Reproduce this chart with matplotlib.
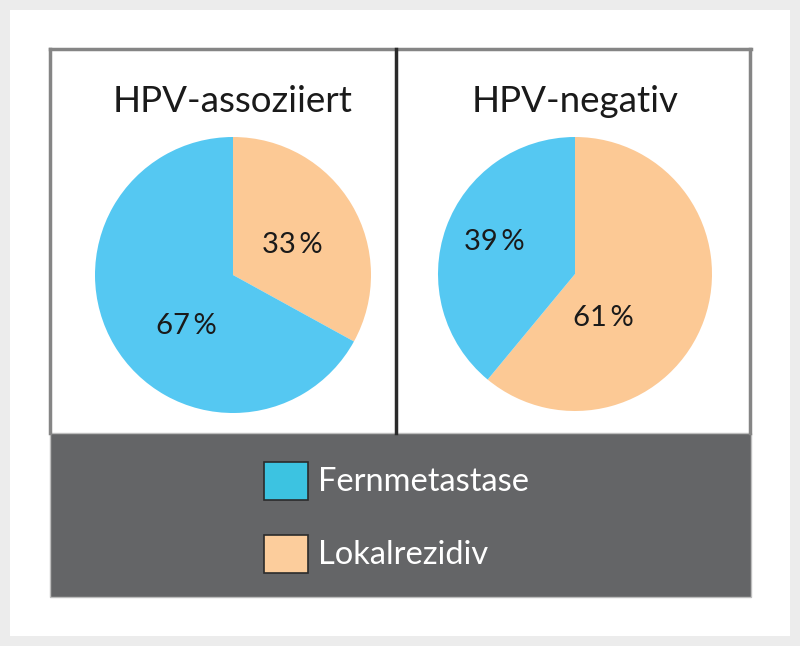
import matplotlib
matplotlib.use('Agg')
import matplotlib.pyplot as plt
from matplotlib.patches import Rectangle
from matplotlib.lines import Line2D

plt.rcParams['font.family'] = ['Lato', 'DejaVu Sans']

groups = ['HPV-assoziiert', 'HPV-negativ']
categories = ['Lokalrezidiv', 'Fernmetastase']
hpv_pos = [33, 67]
hpv_neg = [61, 39]
legend_labels = ['Fernmetastase', 'Lokalrezidiv']

pie_colors = {'Lokalrezidiv': '#fcc995', 'Fernmetastase': '#55c8f2'}
legend_colors = {'Fernmetastase': '#3cc3e1', 'Lokalrezidiv': '#fccd9c'}

W, H = 800, 646
fig = plt.figure(figsize=(W / 100, H / 100), dpi=100, facecolor='#ececec')


def box(x0, y0, x1, y1):
    # pixel box (top-left origin) -> figure fraction rect
    return [x0 / W, 1 - y1 / H, (x1 - x0) / W, (y1 - y0) / H]


def fx(x):
    return x / W


def fy(y):
    return 1 - y / H


# white card and dark legend band
fig.patches.append(Rectangle((fx(10), fy(636)), fx(780), 626 / H, transform=fig.transFigure,
                             facecolor='white', edgecolor='none', zorder=0))
fig.patches.append(Rectangle((fx(50), fy(597)), fx(701), 164 / H, transform=fig.transFigure,
                             facecolor='#646567', edgecolor='#bdbdbd', linewidth=1, zorder=1))

# frame lines
frame_kw = dict(transform=fig.transFigure, color='#858585', linewidth=2.5, zorder=2)
fig.lines.append(Line2D([fx(50), fx(751)], [fy(49), fy(49)], **frame_kw))
fig.lines.append(Line2D([fx(50), fx(50)], [fy(49), fy(433)], **frame_kw))
fig.lines.append(Line2D([fx(750), fx(750)], [fy(49), fy(433)], **frame_kw))
fig.lines.append(Line2D([fx(396), fx(396)], [fy(49), fy(433)], transform=fig.transFigure,
                        color='#2a2a2a', linewidth=2.5, zorder=3))

panels = [
    (groups[0], hpv_pos, box(95, 137, 371, 413), 101, 233, [(0.43, 0.22), (-0.34, -0.37)]),
    (groups[1], hpv_neg, box(438, 137, 712, 411), 101, 575, [(0.21, -0.32), (-0.59, 0.23)]),
]

for title, values, rect, ty, tx, label_pos in panels:
    ax = fig.add_axes(rect, zorder=5)
    ax.patch.set_visible(False)
    wedges, texts, autotexts = ax.pie(values, colors=[pie_colors[c] for c in categories],
                                      startangle=90, counterclock=False,
                                      autopct=lambda p: '{:.0f}\u2009%'.format(p),
                                      textprops=dict(fontsize=21, color='#1a1a1a'))
    for t, pos in zip(autotexts, label_pos):
        t.set_position(pos)
    ax.set_xlim(-1, 1)
    ax.set_ylim(-1, 1)
    fig.text(fx(tx), fy(ty), title, ha='center', va='center', fontsize=26.5, color='#1a1a1a')

# legend
for i, label in enumerate(legend_labels):
    y0 = 462 + i * 73
    fig.patches.append(Rectangle((fx(264), fy(y0 + 38)), 44 / W, 38 / H, transform=fig.transFigure,
                                 facecolor=legend_colors[label], edgecolor='#2b2b2b',
                                 linewidth=1.2, zorder=4))
    fig.text(fx(318), fy(y0 + 20), label, ha='left', va='center', fontsize=23.5, color='white')

fig.savefig('out.png', dpi=100, facecolor=fig.get_facecolor())
